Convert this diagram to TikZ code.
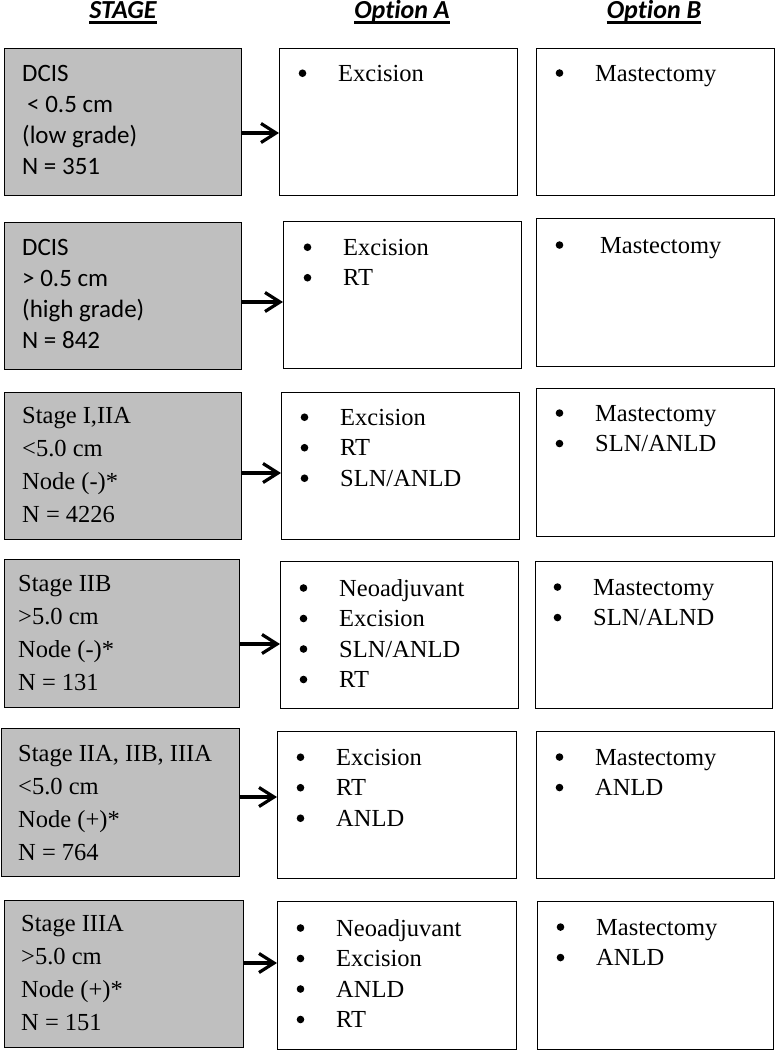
\documentclass[tikz,border=0pt]{standalone}
\usepackage{fontspec}
\usepackage{tikz}
\usetikzlibrary{arrows.meta}
\setmainfont{Liberation Serif}
\newfontfamily\calibri[Ligatures=NoCommon]{Carlito}

% one bullet line in the option boxes
\newcommand{\itm}[1]{\makebox[40pt][l]{\hspace{0.5pt}\tikz[baseline=-8.2pt]\fill (0,0) circle (3.8pt);}#1}

\begin{document}
\begin{tikzpicture}[x=1pt,y=-1pt,
        stagebox/.style={draw=black,line width=1.4pt,fill=black!25,anchor=north west,inner sep=0pt},
        optbox/.style={draw=black,line width=1.4pt,fill=white,anchor=north west,inner sep=0pt},
        hdr/.style={anchor=base,inner sep=0pt,text depth=3.8pt,font=\calibri\bfseries\itshape\fontsize{26}{30}\selectfont},
        sanstxt/.style={anchor=north west,inner sep=0pt,align=left,font=\calibri\fontsize{25}{31}\selectfont},
        sertxt/.style={anchor=north west,inner sep=0pt,align=left,font=\fontsize{24.5}{33}\selectfont},
        opttxt/.style={anchor=north west,inner sep=0pt,align=left,font=\fontsize{24.5}{30.5}\selectfont},
        arr/.style={line width=3.2pt,-{Straight Barb[length=15pt,width=19pt,line width=3.2pt]}}]
    \useasboundingbox (0,0) rectangle (775,1050);

    % column headings
    \node[hdr] (hstage) at (123,18.5) {STAGE};
    \node[hdr] (hopta) at (402,18.5) {Option A};
    \node[hdr] (hoptb) at (654,18.5) {Option B};
    \draw[line width=2.2pt] (hstage.south west) -- (hstage.south east);
    \draw[line width=2.2pt] (hopta.south west) -- (hopta.south east);
    \draw[line width=2.2pt] (hoptb.south west) -- (hoptb.south east);

    % row 1
    \node[stagebox,minimum width=237pt,minimum height=147pt] (s1) at (4,48) {};
    \node[optbox,minimum width=238pt,minimum height=147pt] (a1) at (279,48) {};
    \node[optbox,minimum width=238pt,minimum height=147pt] (b1) at (536,48) {};
    \node[sanstxt] (s1t) at ([shift={(18,17)}]s1.north west) {DCIS\\\hspace{5pt}< 0.5 cm\\(low grade)\\N = 351};
    \node[opttxt] (a1t) at ([shift={(19,17)}]a1.north west) {\itm{Excision}};
    \node[opttxt] (b1t) at ([shift={(19,17)}]b1.north west) {\itm{Mastectomy}};
    \coordinate (r1) at (0,133);
    \draw[arr] (s1.east |- r1) -- (a1.west |- r1);

    % row 2
    \node[stagebox,minimum width=237pt,minimum height=147pt] (s2) at (4,222) {};
    \node[optbox,minimum width=238pt,minimum height=147pt] (a2) at (283,221) {};
    \node[optbox,minimum width=238pt,minimum height=148pt] (b2) at (536,218) {};
    \node[sanstxt] (s2t) at ([shift={(18,17)}]s2.north west) {DCIS\\> 0.5 cm\\(high grade)\\N = 842};
    \node[opttxt] (a2t) at ([shift={(20,18)}]a2.north west) {\itm{Excision}\\\itm{RT}};
    \node[opttxt] (b2t) at ([shift={(19,19)}]b2.north west) {\itm{\hspace{5pt}Mastectomy}};
    \coordinate (r2) at (0,302);
    \draw[arr] (s2.east |- r2) -- (a2.west |- r2);

    % row 3
    \node[stagebox,minimum width=237pt,minimum height=147pt] (s3) at (4,392) {};
    \node[optbox,minimum width=238pt,minimum height=147pt] (a3) at (281,392) {};
    \node[optbox,minimum width=238pt,minimum height=148pt] (b3) at (536,388) {};
    \node[sertxt] (s3t) at ([shift={(18,15)}]s3.north west) {Stage I,IIA\\<5.0 cm\\Node (-)*\\N = 4226};
    \node[opttxt] (a3t) at ([shift={(19,17)}]a3.north west) {\itm{Excision}\\\itm{RT}\\\itm{SLN/ANLD}};
    \node[opttxt] (b3t) at ([shift={(19,17)}]b3.north west) {\itm{Mastectomy}\\\itm{SLN/ANLD}};
    \coordinate (r3) at (0,473);
    \draw[arr] (s3.east |- r3) -- (a3.west |- r3);

    % row 4
    \node[stagebox,minimum width=235pt,minimum height=148pt] (s4) at (4,559) {};
    \node[optbox,minimum width=238pt,minimum height=147pt] (a4) at (280,561) {};
    \node[optbox,minimum width=237pt,minimum height=147pt] (b4) at (535,561) {};
    \node[sertxt] (s4t) at ([shift={(14,16)}]s4.north west) {Stage IIB\\>5.0 cm\\Node (-)*\\N = 131};
    \node[opttxt] (a4t) at ([shift={(19,18)}]a4.north west) {\itm{Neoadjuvant}\\\itm{Excision}\\\itm{SLN/ANLD}\\\itm{RT}};
    \node[opttxt] (b4t) at ([shift={(18,18)}]b4.north west) {\itm{Mastectomy}\\\itm{SLN/ALND}};
    \coordinate (r4) at (0,644);
    \draw[arr] (s4.east |- r4) -- (a4.west |- r4);

    % row 5
    \node[stagebox,minimum width=238pt,minimum height=148pt] (s5) at (1,728) {};
    \node[optbox,minimum width=239pt,minimum height=147pt] (a5) at (277,731) {};
    \node[optbox,minimum width=238pt,minimum height=147pt] (b5) at (536,731) {};
    \node[sertxt] (s5t) at ([shift={(17,17)}]s5.north west) {Stage IIA, IIB, IIIA\\<5.0 cm\\Node (+)*\\N = 764};
    \node[opttxt] (a5t) at ([shift={(19,18)}]a5.north west) {\itm{Excision}\\\itm{RT}\\\itm{ANLD}};
    \node[opttxt] (b5t) at ([shift={(19,18)}]b5.north west) {\itm{Mastectomy}\\\itm{ANLD}};
    \coordinate (r5) at (0,797);
    \draw[arr] (s5.east |- r5) -- (a5.west |- r5);

    % row 6
    \node[stagebox,minimum width=239pt,minimum height=147pt] (s6) at (4,900) {};
    \node[optbox,minimum width=239pt,minimum height=148pt] (a6) at (277,901) {};
    \node[optbox,minimum width=236pt,minimum height=148pt] (b6) at (537,901) {};
    \node[sertxt] (s6t) at ([shift={(17,15)}]s6.north west) {Stage IIIA\\>5.0 cm\\Node (+)*\\N = 151};
    \node[opttxt] (a6t) at ([shift={(19,18)}]a6.north west) {\itm{Neoadjuvant}\\\itm{Excision}\\\itm{ANLD}\\\itm{RT}};
    \node[opttxt] (b6t) at ([shift={(19,18)}]b6.north west) {\itm{Mastectomy}\\\itm{ANLD}};
    \coordinate (r6) at (0,963);
    \draw[arr] (s6.east |- r6) -- (a6.west |- r6);
\end{tikzpicture}
\end{document}
